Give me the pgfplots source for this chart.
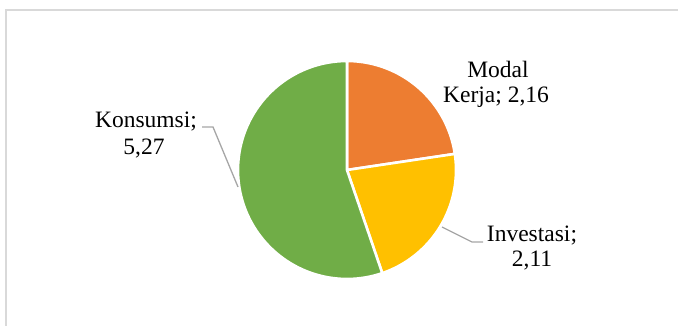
\documentclass[border=0pt]{standalone}
\usepackage{pgfplots}
\pgfplotsset{compat=1.18}
\usepackage{fontspec}
\setmainfont{Liberation Serif}
\definecolor{cOrange}{HTML}{ED7D31}
\definecolor{cGold}{HTML}{FFC000}
\definecolor{cGreen}{HTML}{70AD47}
\definecolor{cLead}{HTML}{A6A6A6}
\definecolor{cFrame}{HTML}{D9D9D9}
% data
\def\vModal{2.16}
\def\vInvest{2.11}
\def\vKons{5.27}
\pgfmathsetmacro{\total}{\vModal+\vInvest+\vKons}
\pgfmathsetmacro{\aA}{90}
\pgfmathsetmacro{\aB}{\aA-\vModal/\total*360}
\pgfmathsetmacro{\aC}{\aB-\vInvest/\total*360}
\pgfmathsetmacro{\aD}{\aC-\vKons/\total*360}
\def\cx{347}
\def\cy{156}
\def\rr{109}
\begin{document}
\begin{tikzpicture}
\begin{axis}[
  width=678bp, height=326bp, scale only axis,
  xmin=0, xmax=678, ymin=0, ymax=326,
  hide axis, clip=false,
]
\coordinate (BL) at (axis cs:0,0);
\coordinate (TR) at (axis cs:678,326);
% frame
\addplot[cFrame, line width=2bp] coordinates {(6,0) (6,316) (678,316)};
% slices
\addplot[fill=cOrange, draw=white, line width=2.6bp, domain=\aB:\aA, samples=80, variable=\t]
  ({\cx+\rr*cos(\t)},{\cy+\rr*sin(\t)}) -- (axis cs:\cx,\cy) -- cycle;
\addplot[fill=cGold, draw=white, line width=2.6bp, domain=\aC:\aB, samples=80, variable=\t]
  ({\cx+\rr*cos(\t)},{\cy+\rr*sin(\t)}) -- (axis cs:\cx,\cy) -- cycle;
\addplot[fill=cGreen, draw=white, line width=2.6bp, domain=\aD:\aC, samples=160, variable=\t]
  ({\cx+\rr*cos(\t)},{\cy+\rr*sin(\t)}) -- (axis cs:\cx,\cy) -- cycle;
% leader lines
\addplot[cLead, line width=1.3bp] coordinates {(202,199) (213,199) (238,139)};
\addplot[cLead, line width=1.3bp] coordinates {(442,99) (472,84) (483,84)};
% labels
\begin{scope}[every node/.style={inner sep=0pt, anchor=base, font=\fontsize{23.5bp}{26bp}\selectfont}]
\node at (axis cs:498,248) {Modal};
\node at (axis cs:496,223) {Kerja; 2,16};
\node at (axis cs:146,198) {Konsumsi;};
\node at (axis cs:144,171) {5,27};
\node at (axis cs:532,84) {Investasi;};
\node at (axis cs:532,59) {2,11};
\end{scope}
\end{axis}
\pgfresetboundingbox
\path[use as bounding box] (BL) rectangle (TR);
\end{tikzpicture}
\end{document}
